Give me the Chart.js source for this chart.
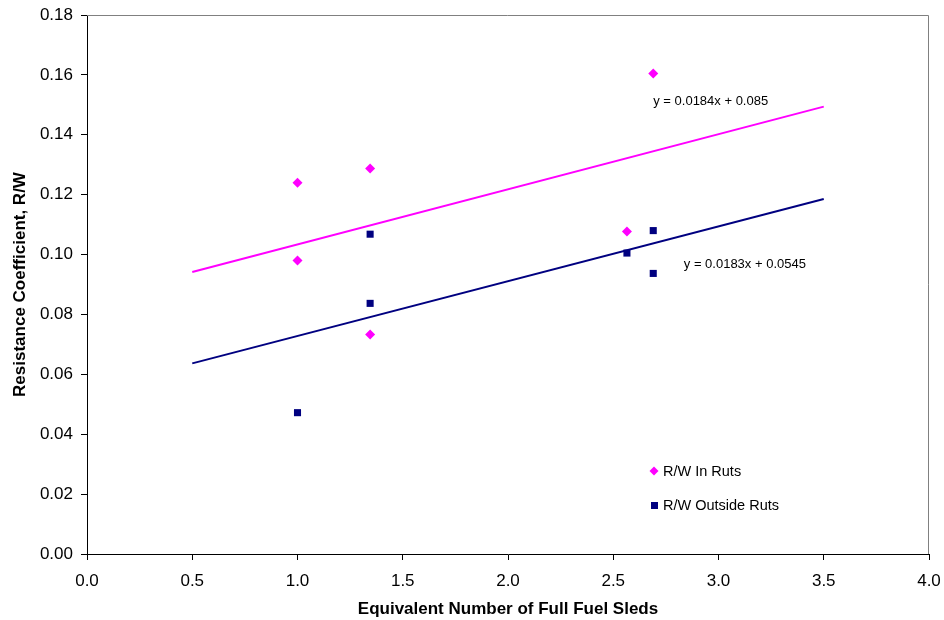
<!DOCTYPE html>
<html>
<head>
<meta charset="utf-8">
<script src="https://cdn.jsdelivr.net/npm/chart.js@4.4.1/dist/chart.umd.min.js"></script>
<style>
  html, body { margin: 0; padding: 0; background: #fff; }
  canvas { display: block; }
</style>
</head>
<body>
<canvas id="myChart" width="944" height="620"></canvas>
<script>
// data
var inRutsX = [1.0, 1.0, 1.345, 1.345, 2.565, 2.69];
var inRutsY = [0.124, 0.098, 0.1287, 0.0733, 0.1077, 0.1605];
var outRutsX = [1.0, 1.345, 1.345, 2.565, 2.69, 2.69];
var outRutsY = [0.0472, 0.1068, 0.0837, 0.1005, 0.108, 0.0937];
var trendX = [0.5, 3.5];
var inTrendY = [0.0942, 0.1494];   // y = 0.0184x + 0.085
var outTrendY = [0.06365, 0.11855]; // y = 0.0183x + 0.0545
var legendLabels = ['R/W In Ruts', 'R/W Outside Ruts'];
var equationLabels = ['y = 0.0184x + 0.085', 'y = 0.0183x + 0.0545'];

var pink = '#ff00ff';
var navy = '#000080';
var fontFamily = '"Liberation Sans", Arial, sans-serif';

function toPoints(xs, ys) {
    return xs.map(function (x, i) { return { x: x, y: ys[i] }; });
}

// gray top/right border, equations and legend inside the plot
var extras = {
    id: 'extras',
    afterDraw: function (chart) {
        var c = chart.ctx;
        var a = chart.chartArea;
        var xs = chart.scales.x, ys = chart.scales.y;
        c.save();
        c.strokeStyle = '#808080';
        c.lineWidth = 1;
        c.beginPath();
        c.moveTo(a.left, a.top + 0.5);
        c.lineTo(a.right - 0.5, a.top + 0.5);
        c.lineTo(a.right - 0.5, a.bottom);
        c.stroke();

        c.fillStyle = '#000';
        c.font = '13px ' + fontFamily;
        c.textBaseline = 'middle';
        c.textAlign = 'left';
        c.fillText(equationLabels[0], xs.getPixelForValue(2.69), ys.getPixelForValue(0.1512));
        c.fillText(equationLabels[1], xs.getPixelForValue(2.835), ys.getPixelForValue(0.0968));

        // legend
        c.font = '14.5px ' + fontFamily;
        var lx = 654, ly = [471, 505];
        c.fillStyle = pink;
        c.beginPath();
        c.moveTo(lx, ly[0] - 4.5);
        c.lineTo(lx + 4.5, ly[0]);
        c.lineTo(lx, ly[0] + 4.5);
        c.lineTo(lx - 4.5, ly[0]);
        c.closePath();
        c.fill();
        c.fillStyle = navy;
        c.fillRect(lx - 3, ly[1] - 3, 7, 7);
        c.fillStyle = '#000';
        c.fillText(legendLabels[0], lx + 9, ly[0] + 1);
        c.fillText(legendLabels[1], lx + 9, ly[1] + 1);
        c.restore();
    }
};

var ctx = document.getElementById('myChart').getContext('2d');
var myChart = new Chart(ctx, {
    type: 'scatter',
    data: {
        datasets: [
            {
                label: legendLabels[0],
                data: toPoints(inRutsX, inRutsY),
                pointStyle: 'rectRot',
                pointRadius: 5,
                backgroundColor: pink,
                borderColor: pink,
                borderWidth: 0
            },
            {
                label: legendLabels[1],
                data: toPoints(outRutsX, outRutsY),
                pointStyle: 'rect',
                pointRadius: 5,
                backgroundColor: navy,
                borderColor: navy,
                borderWidth: 0
            },
            {
                label: 'trend in',
                data: toPoints(trendX, inTrendY),
                showLine: true,
                pointRadius: 0,
                borderColor: pink,
                borderWidth: 2
            },
            {
                label: 'trend out',
                data: toPoints(trendX, outTrendY),
                showLine: true,
                pointRadius: 0,
                borderColor: navy,
                borderWidth: 2
            }
        ]
    },
    options: {
        responsive: false,
        animation: false,
        layout: {
            padding: { left: 10, right: 0, top: 0, bottom: 0 }
        },
        plugins: {
            legend: { display: false },
            tooltip: { enabled: false }
        },
        scales: {
            x: {
                type: 'linear',
                min: 0,
                max: 4,
                ticks: {
                    stepSize: 0.5,
                    color: '#000',
                    font: { family: fontFamily, size: 17 },
                    callback: function (v) { return v.toFixed(1); },
                    padding: 11
                },
                grid: { drawOnChartArea: false, tickLength: 6, color: '#000' },
                border: { color: '#000', width: 1 },
                title: {
                    display: true,
                    text: 'Equivalent Number of Full Fuel Sleds',
                    color: '#000',
                    font: { family: fontFamily, size: 17, weight: 'bold' },
                    padding: { top: 8, bottom: 0 }
                },
                afterFit: function (s) {
                    s.height = 66;
                    s.paddingLeft = 0;
                    s.paddingRight = 15;
                }
            },
            y: {
                type: 'linear',
                min: 0,
                max: 0.18,
                ticks: {
                    stepSize: 0.02,
                    color: '#000',
                    font: { family: fontFamily, size: 17 },
                    callback: function (v) { return v.toFixed(2); },
                    padding: 8
                },
                grid: { drawOnChartArea: false, tickLength: 6, color: '#000' },
                border: { color: '#000', width: 1 },
                title: {
                    display: true,
                    text: 'Resistance Coefficient, R/W',
                    color: '#000',
                    font: { family: fontFamily, size: 17, weight: 'bold' },
                    padding: { top: 0, bottom: 8 }
                },
                afterFit: function (s) {
                    s.width = 77;
                    s.paddingTop = 15;
                    s.paddingBottom = 0;
                }
            }
        }
    },
    plugins: [extras]
});
</script>
</body>
</html>
